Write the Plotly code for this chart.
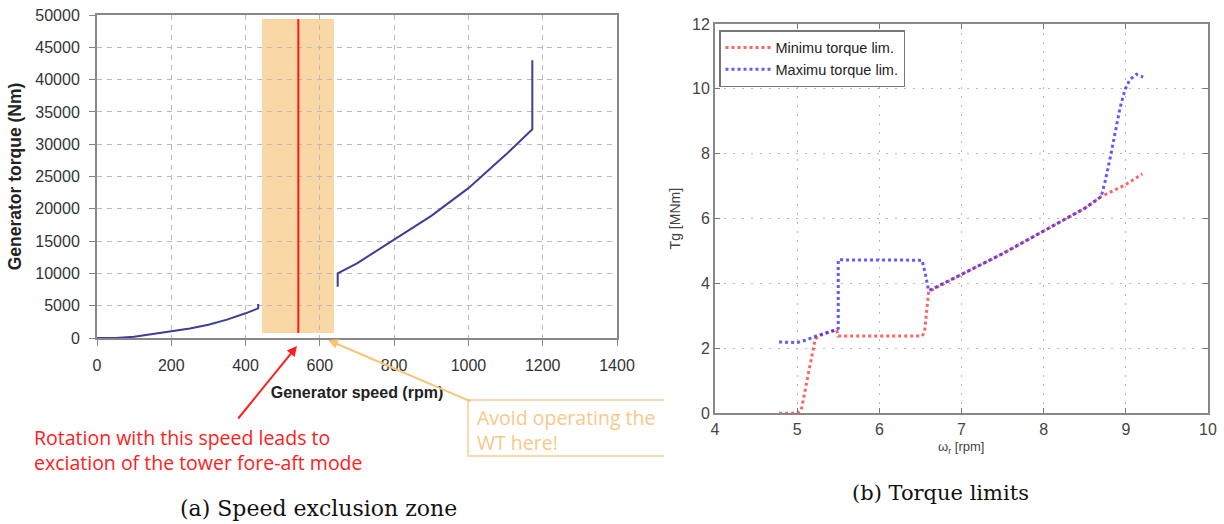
import plotly.graph_objects as go

# (a) Generator torque vs generator speed, split around the exclusion zone
speed_low = [0, 50, 100, 150, 200, 250, 300, 350, 400, 434, 434]
torque_low = [0, 0, 200, 620, 1000, 1480, 2050, 2850, 3820, 4590, 5260]
speed_high = [648, 648, 700, 800, 900, 1000, 1100, 1172, 1172]
torque_high = [7940, 10000, 11560, 15170, 18900, 23200, 28350, 32300, 43000]

exclusion_zone = [444, 638]        # rpm
exclusion_torque = [780, 49400]    # Nm, vertical extent of the shaded band
resonant_speed = 542               # rpm

# (b) Torque limits vs rotor speed
min_speed = [4.78, 5.0, 5.05, 5.22, 5.3, 5.48, 5.5, 6.0, 6.52, 6.55, 6.6,
             7.0, 7.5, 8.0, 8.5, 8.7, 9.0, 9.2]
min_torque = [0, 0, 0.1, 2.3, 2.42, 2.58, 2.38, 2.38, 2.38, 2.5, 3.75,
              4.28, 4.92, 5.62, 6.32, 6.68, 7.05, 7.38]
max_speed = [4.78, 5.0, 5.1, 5.25, 5.48, 5.5, 5.5, 6.0, 6.52, 6.56, 6.6,
             7.0, 7.5, 8.0, 8.5, 8.7, 8.75, 8.81, 8.87, 8.93, 8.99, 9.05,
             9.13, 9.21]
max_torque = [2.2, 2.18, 2.25, 2.4, 2.58, 2.62, 4.73, 4.73, 4.72, 4.3, 3.78,
              4.28, 4.92, 5.62, 6.32, 6.68, 7.17, 7.88, 8.70, 9.42, 9.98,
              10.29, 10.45, 10.36]

W, H = 1224, 524


def px(x):
    return x / W


def py(y):
    return 1 - y / H


SANS = "Liberation Sans"
curve_color = "rgb(62,62,150)"

fig = go.Figure()

for xs, ys in [(speed_low, torque_low), (speed_high, torque_high)]:
    fig.add_trace(go.Scatter(x=xs, y=ys, mode="lines", xaxis="x", yaxis="y",
                             line=dict(color=curve_color, width=2),
                             showlegend=False, hoverinfo="skip"))

fig.add_trace(go.Scatter(x=min_speed, y=min_torque, mode="lines",
                         name="Minimu torque lim.", xaxis="x2", yaxis="y2",
                         line=dict(color="rgba(255,40,40,0.72)", width=3,
                                   dash="3px,3px")))
fig.add_trace(go.Scatter(x=max_speed, y=max_torque, mode="lines",
                         name="Maximu torque lim.", xaxis="x2", yaxis="y2",
                         line=dict(color="rgba(30,30,255,0.72)", width=3,
                                   dash="3px,3px")))

shapes = [
    dict(type="rect", xref="x", yref="y",
         x0=exclusion_zone[0], x1=exclusion_zone[1],
         y0=exclusion_torque[0], y1=exclusion_torque[1],
         fillcolor="rgb(250,216,166)", line=dict(width=0), layer="below"),
    dict(type="line", xref="x", yref="y",
         x0=resonant_speed, x1=resonant_speed,
         y0=exclusion_torque[0], y1=exclusion_torque[1],
         line=dict(color="rgb(255,25,25)", width=2)),
    # open callout box around the warning text
    dict(type="path", xref="paper", yref="paper",
         path=f"M {px(664)},{py(400)} L {px(468)},{py(400)} "
              f"L {px(468)},{py(456)} L {px(664)},{py(456)}",
         line=dict(color="rgb(250,205,150)", width=1.5)),
]

annotations = [
    dict(xref="paper", yref="paper", x=px(297), y=py(346), text="",
         showarrow=True, ax=-60, ay=74, arrowcolor="rgb(255,30,30)",
         arrowwidth=2, arrowhead=2, arrowsize=1),
    dict(xref="paper", yref="paper", x=px(328), y=py(340), text="",
         showarrow=True, ax=144, ay=62, arrowcolor="rgb(250,195,120)",
         arrowwidth=2, arrowhead=2, arrowsize=1),
    dict(xref="paper", yref="paper", x=px(33), y=py(449.5),
         xanchor="left", yanchor="middle", align="left", showarrow=False,
         borderpad=0,
         text="Rotation with this speed leads to<br>exciation of the tower fore-aft mode",
         font=dict(family="Open Sans", size=19.5, color="rgb(255,32,32)")),
    dict(xref="paper", yref="paper", x=px(476), y=py(429.5),
         xanchor="left", yanchor="middle", align="left", showarrow=False,
         borderpad=0,
         text="Avoid operating the<br>WT here!",
         font=dict(family="Open Sans", size=19.5, color="rgb(249,200,135)")),
    dict(xref="paper", yref="paper", x=px(318), y=py(508),
         xanchor="center", yanchor="middle", showarrow=False,
         text="(a) Speed exclusion zone",
         font=dict(family="DejaVu Serif", size=22, color="#111")),
    dict(xref="paper", yref="paper", x=px(940), y=py(493),
         xanchor="center", yanchor="middle", showarrow=False,
         text="(b) Torque limits",
         font=dict(family="DejaVu Serif", size=21, color="#111")),
    # rotor speed axis title, set close under the tick labels
    dict(xref="paper", yref="paper", x=px(961), y=py(447),
         xanchor="center", yanchor="middle", showarrow=False,
         text="ω<sub>r</sub> [rpm]",
         font=dict(family=SANS, size=13, color="#444")),
]

left_axis = dict(showgrid=True, gridcolor="#bbb", griddash="5px,5px",
                 gridwidth=1, zeroline=False, showline=True, linecolor="#888",
                 linewidth=2, mirror=True, ticks="outside", ticklen=6,
                 tickcolor="#888", automargin=False,
                 tickfont=dict(size=16, color="#333"))
right_axis = dict(showgrid=True, gridcolor="#bbb", griddash="2px,7px",
                  gridwidth=1, zeroline=False, showline=True,
                  linecolor="#888", linewidth=2, mirror="ticks",
                  ticks="inside", ticklen=5, tickcolor="#777",
                  automargin=False,
                  tickfont=dict(size=16, color="#444"))

fig.update_layout(
    width=W, height=H,
    margin=dict(l=0, r=0, t=0, b=0, autoexpand=False),
    paper_bgcolor="white", plot_bgcolor="white",
    font=dict(family=SANS, color="#333"),
    shapes=shapes, annotations=annotations,
    xaxis=dict(domain=[px(97), px(617)], range=[0, 1400], dtick=200,
               anchor="y", ticklabelstandoff=6,
               title=dict(text="<b>Generator speed (rpm)</b>", standoff=14,
                          font=dict(size=16, color="#222")),
               **left_axis),
    yaxis=dict(domain=[py(338), py(15)], range=[0, 50000], dtick=5000,
               tickformat="d", anchor="x", ticklabelstandoff=6,
               title=dict(text="<b>Generator torque (Nm)</b>", standoff=9,
                          font=dict(size=17.5, color="#222")),
               **left_axis),
    xaxis2=dict(domain=[px(715), px(1208)], range=[4, 10], dtick=1,
                anchor="y2", **right_axis),
    yaxis2=dict(domain=[py(413.3), py(24)], range=[0, 12], dtick=2,
                anchor="x2",
                title=dict(text="Tg [MNm]", standoff=8,
                           font=dict(size=14, color="#444")),
                **right_axis),
    legend=dict(x=px(719), y=py(30), xanchor="left", yanchor="top",
                bgcolor="white", bordercolor="#777", borderwidth=1.5,
                font=dict(size=14.5, color="#222"), itemwidth=45,
                tracegroupgap=0),
)

fig.write_html("out.html")
